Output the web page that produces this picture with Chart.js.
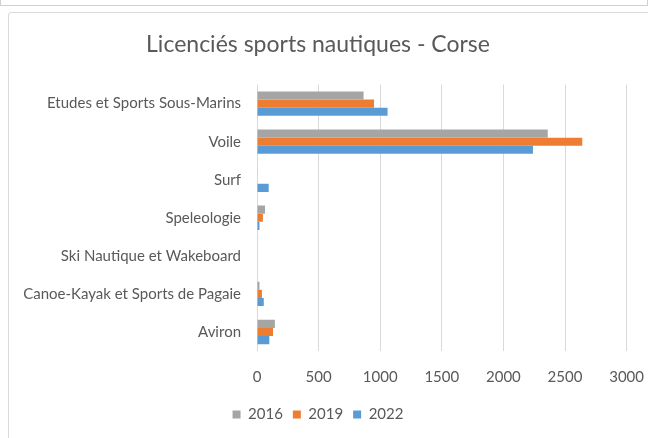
<!DOCTYPE html>
<html>
<head>
<meta charset="utf-8">
<script src="https://cdn.jsdelivr.net/npm/chart.js@4"></script>
<style>
    body { margin: 0; background: #fff; width: 648px; height: 438px; overflow: hidden; position: relative; }
    #topStrip { position: absolute; left: 0; top: -10px; width: 646px; height: 14px; border: 1px solid #d0d0d0; }
    #frame { position: absolute; left: 8px; top: 12px; width: 660px; height: 440px; border: 1px solid #d9d9d9; border-radius: 3px; }
    #chartBox { position: absolute; left: 9px; top: 13px; width: 652px; height: 428px; }
</style>
</head>
<body>
<div id="topStrip"></div>
<div id="frame"></div>
<div id="chartBox"><canvas id="dataChart"></canvas></div>
<script>
const categories = [
    "Etudes et Sports Sous-Marins",
    "Voile",
    "Surf",
    "Speleologie",
    "Ski Nautique et Wakeboard",
    "Canoe-Kayak et Sports de Pagaie",
    "Aviron"
];
const values2016 = [865, 2360, 5, 65, 0, 20, 145];
const values2019 = [950, 2640, 0, 48, 0, 40, 130];
const values2022 = [1060, 2240, 95, 20, 0, 55, 100];
const xTicks = [0, 500, 1000, 1500, 2000, 2500, 3000];

const textGrey = "#595959";
const fontFamily = "Lato, 'Open Sans', sans-serif";

document.addEventListener("DOMContentLoaded", function () {
    const dataChartCanvas = document.getElementById("dataChart");

    new Chart(dataChartCanvas, {
        type: "bar",
        data: {
            labels: categories,
            datasets: [
                { label: "2016", data: values2016, backgroundColor: "#A5A5A5" },
                { label: "2019", data: values2019, backgroundColor: "#ED7D31" },
                { label: "2022", data: values2022, backgroundColor: "#5B9BD5" }
            ]
        },
        options: {
            indexAxis: "y",
            responsive: true,
            maintainAspectRatio: false,
            animation: false,
            categoryPercentage: 0.64,
            barPercentage: 1,
            layout: { padding: { left: 0, right: 34, top: 10, bottom: 9 } },
            plugins: {
                title: {
                    display: true,
                    text: "Licenciés sports nautiques - Corse",
                    color: textGrey,
                    font: { family: fontFamily, size: 23, weight: "normal" },
                    padding: { top: 8, bottom: 26 }
                },
                legend: {
                    position: "bottom",
                    labels: {
                        color: textGrey,
                        font: { family: fontFamily, size: 15 },
                        boxWidth: 8,
                        boxHeight: 8,
                        padding: 10
                    }
                },
                tooltip: { enabled: false }
            },
            scales: {
                x: {
                    min: 0,
                    max: 3000,
                    afterBuildTicks: (scale) => { scale.ticks = xTicks.map(v => ({ value: v })); },
                    afterFit: (scale) => { scale.height -= 6; },
                    grid: { color: "#d9d9d9", drawTicks: false },
                    border: { display: false },
                    ticks: {
                        color: textGrey,
                        padding: 17,
                        font: { family: fontFamily, size: 15 },
                        callback: (value) => String(value)
                    }
                },
                y: {
                    afterFit: (scale) => { scale.width = 248; },
                    grid: { display: false },
                    border: { display: false },
                    ticks: {
                        color: textGrey,
                        padding: 8,
                        font: { family: fontFamily, size: 15 }
                    }
                }
            }
        }
    });
});
</script>
</body>
</html>
